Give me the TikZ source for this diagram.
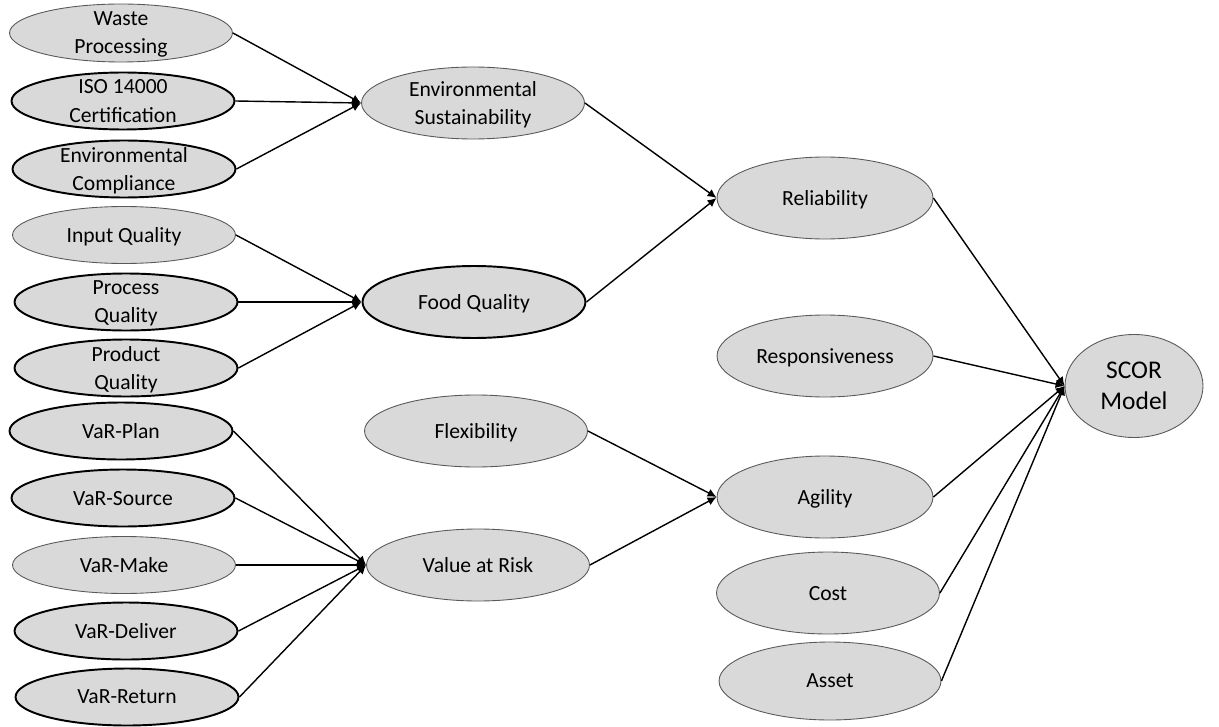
\documentclass[tikz,border=0pt]{standalone}
\usepackage{fontspec}
\setmainfont{Carlito}
\usepackage{tikz}
\usetikzlibrary{shapes.geometric,arrows.meta}
\definecolor{ovalgray}{HTML}{D9D9D9}

\tikzset{
  oval/.style={ellipse, draw=black!65, line width=0.5pt, fill=ovalgray,
    inner xsep=0pt, inner ysep=-3pt, align=center, text depth=0pt,
    font=\fontsize{12.3}{16}\selectfont},
  boldoval/.style={oval, draw=black, line width=1.1pt},
  leftoval/.style={minimum width=4.46cm, minimum height=1.14cm},
  midoval/.style={minimum width=4.46cm, minimum height=1.44cm},
  rightoval/.style={minimum width=4.32cm, minimum height=1.64cm},
  link/.style={-{Latex[length=1.8mm,width=1.7mm]}, line width=0.8pt}
}

\begin{document}
\begin{tikzpicture}[x=0.02cm, y=-0.02cm]
\useasboundingbox (0,0) rectangle (1219,726);

% first column
\node[oval, leftoval, minimum height=1.16cm] (waste) at (121,33) {Waste\\Processing};
\node[boldoval, leftoval] (iso) at (123,101) {ISO 14000\\Certification};
\node[boldoval, leftoval] (envcomp) at (124,169) {Environmental\\Compliance};
\node[oval, leftoval] (input) at (124,235) {Input Quality};
\node[boldoval, leftoval] (process) at (126,302) {Process\\Quality};
\node[boldoval, leftoval] (product) at (126,368) {Product\\Quality};
\node[boldoval, leftoval] (varplan) at (121,431) {VaR-Plan};
\node[boldoval, leftoval] (varsource) at (123,498) {VaR-Source};
\node[oval, leftoval] (varmake) at (124,565) {VaR-Make};
\node[boldoval, leftoval] (vardeliver) at (126,631) {VaR-Deliver};
\node[boldoval, leftoval] (varreturn) at (127,697) {VaR-Return};

% second column
\node[oval, midoval] (envsus) at (473,103) {Environmental\\Sustainability};
\node[boldoval, midoval] (food) at (474,302) {Food Quality};
\node[oval, midoval] (flex) at (476,431) {Flexibility};
\node[oval, midoval] (var) at (478,565) {Value at Risk};

% third column
\node[oval, rightoval] (reliab) at (825,198) {Reliability};
\node[oval, rightoval] (respons) at (825,356) {Responsiveness};
\node[oval, rightoval] (agility) at (825,497) {Agility};
\node[oval, rightoval, minimum width=4.46cm] (cost) at (828,593) {Cost};
\node[oval, rightoval, minimum width=4.44cm, minimum height=1.56cm] (asset) at (830,681) {Asset};

\node[oval, minimum width=2.76cm, minimum height=2.06cm,
  font=\fontsize{14.5}{17.5}\selectfont] (scor) at (1134,386) {SCOR\\Model};

\foreach \a in {waste,iso,envcomp}
  \draw[link] (\a.east) -- (envsus.west);
\foreach \a in {input,process,product}
  \draw[link] (\a.east) -- (food.west);
\foreach \a in {varplan,varsource,varmake,vardeliver,varreturn}
  \draw[link] (\a.east) -- (var.west);
\draw[link] (envsus.east) -- (reliab.west);
\draw[link] (food.east) -- (reliab.west);
\draw[link] (flex.east) -- (agility.west);
\draw[link] (var.east) -- (agility.west);
\foreach \a in {reliab,respons,agility,cost,asset}
  \draw[link] (\a.east) -- (scor.west);
\end{tikzpicture}
\end{document}
